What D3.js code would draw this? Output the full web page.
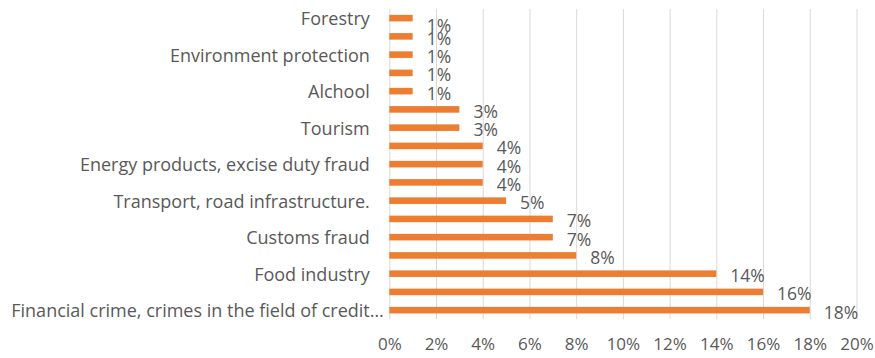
<!DOCTYPE html>
<html>
<head>
<meta charset="utf-8">
<script src="https://cdn.jsdelivr.net/npm/d3@7"></script>
<style>
  html, body { margin: 0; padding: 0; background: #ffffff; }
  svg { display: block; }
  text { font-family: "Open Sans", "Noto Sans", sans-serif; fill: #595959; }
</style>
</head>
<body>
<svg id="chart" width="875" height="358"></svg>
<script>
// Categories listed from the bottom of the chart upward; only every other one carries a visible label.
const categories = [
  "Financial crime, crimes in the field of credit",
  null,
  "Food industry",
  null,
  "Customs fraud",
  null,
  "Transport, road infrastructure.",
  null,
  "Energy products, excise duty fraud",
  null,
  "Tourism",
  null,
  "Alchool",
  null,
  "Environment protection",
  null,
  "Forestry"
];
// Share of cases per category (fraction of total)
const shares = [0.18, 0.16, 0.14, 0.08, 0.07, 0.07, 0.05, 0.04, 0.04, 0.04, 0.03, 0.03, 0.01, 0.01, 0.01, 0.01, 0.01];
const xTicks = [0, 0.02, 0.04, 0.06, 0.08, 0.10, 0.12, 0.14, 0.16, 0.18, 0.20];
const truncatedLabels = [0]; // labels that were cut off and end with an ellipsis

const svg = d3.select("#chart");
const plot = { left: 389.3, right: 856.5, top: 9, bottom: 319.3 };

const x = d3.scaleLinear().domain([0, 0.20]).range([plot.left, plot.right]);
const y = d3.scaleBand()
  .domain(d3.range(categories.length))
  .range([plot.bottom, plot.top])
  .paddingInner(0.64)
  .paddingOuter(0.32);

const fmt = d3.format(".0%");

// Vertical gridlines
svg.append("g")
  .attr("transform", `translate(0,${plot.bottom})`)
  .call(d3.axisBottom(x).tickValues(xTicks).tickSize(-(plot.bottom - plot.top)).tickFormat(""))
  .call(g => g.select(".domain").remove())
  .call(g => g.selectAll("line").attr("stroke", "#d9d9d9").attr("stroke-width", 1));

// Tick labels
svg.append("g")
  .attr("transform", `translate(0,${plot.bottom})`)
  .call(d3.axisBottom(x).tickValues(xTicks).tickSize(0).tickPadding(19).tickFormat(fmt))
  .call(g => g.select(".domain").remove())
  .call(g => g.selectAll("text")
    .attr("fill", "#595959")
    .style("font-family", "'Open Sans', sans-serif")
    .style("font-size", "17px"));

// Bars
svg.append("g").selectAll("rect")
  .data(shares)
  .join("rect")
  .attr("x", x(0))
  .attr("y", (d, i) => y(i))
  .attr("width", d => x(d) - x(0))
  .attr("height", y.bandwidth())
  .attr("fill", "#ed7d31");

// Value labels, kept inside the plot area at the top
svg.append("g").selectAll("text")
  .data(shares)
  .join("text")
  .attr("x", d => x(d) + 14)
  .attr("y", (d, i) => Math.max(y(i) + y.bandwidth() / 2 + 1.5, plot.top + 15.5))
  .attr("dominant-baseline", "central")
  .style("font-size", "17.5px")
  .text(d => fmt(d));

// Category labels
const catG = svg.append("g");
categories.forEach((c, i) => {
  if (!c) return;
  const cy = y(i) + y.bandwidth() / 2;
  catG.append("text")
    .attr("x", plot.left - 19.5)
    .attr("y", cy)
    .attr("text-anchor", "end")
    .attr("dominant-baseline", "central")
    .style("font-size", "18px")
    .text(c);
  if (truncatedLabels.includes(i)) {
    catG.append("text")
      .attr("x", plot.left - 19.5)
      .attr("y", cy)
      .attr("dominant-baseline", "central")
      .style("font-size", "18px")
      .text("…");
  }
});
</script>
</body>
</html>
